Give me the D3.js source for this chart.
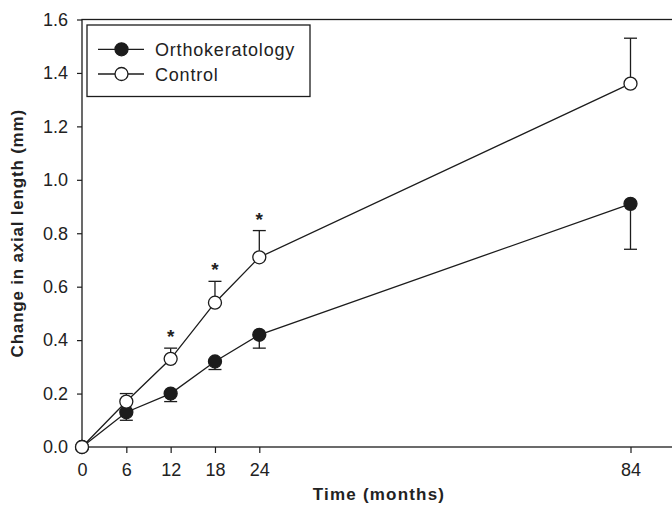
<!DOCTYPE html>
<html>
<head>
<meta charset="utf-8">
<script src="https://cdn.jsdelivr.net/npm/d3@7"></script>
<style>
  body { margin: 0; background: #fff; }
  text { font-family: "Liberation Sans", Arial, sans-serif; fill: #222; }
</style>
</head>
<body>
<div class="chart"></div>
<script>
// values
const months = [0, 6, 12, 18, 24, 84];
const orthoMean = [0, 0.13, 0.20, 0.32, 0.42, 0.91];
const orthoErr = [0, 0.03, 0.03, 0.03, 0.05, 0.17];
const controlMean = [0, 0.17, 0.33, 0.54, 0.71, 1.36];
const controlErr = [0, 0.03, 0.04, 0.08, 0.10, 0.17];
const significant = [false, false, true, true, true, false];
const xTicks = [0, 6, 12, 18, 24, 84];
const yTicks = [0, 0.2, 0.4, 0.6, 0.8, 1.0, 1.2, 1.4, 1.6];

const width = 672, height = 506;
const plotLeft = 82, plotTop = 19.5, plotBottom = 447;

const svg = d3.select(".chart").append("svg")
  .attr("width", width)
  .attr("height", height);

// the x axis is compressed after 24 months in the original
const x = d3.scaleLinear().domain([0, 24, 84]).range([plotLeft, 259.3, 630.5]);
const y = d3.scaleLinear().domain([0, 1.6]).range([plotBottom, plotTop]);

const ink = "#1c1c1c";

// frame (right side runs off the picture)
svg.append("rect")
  .attr("x", plotLeft).attr("y", plotTop)
  .attr("width", 700 - plotLeft).attr("height", plotBottom - plotTop)
  .attr("fill", "none").attr("stroke", ink).attr("stroke-width", 1.3);

// y axis
const yAxis = svg.append("g")
  .attr("transform", `translate(${plotLeft},0)`)
  .call(d3.axisLeft(y).tickValues(yTicks).tickFormat(d3.format(".1f")).tickSize(5).tickPadding(9));
yAxis.select(".domain").remove();
yAxis.selectAll("line").attr("stroke", ink).attr("stroke-width", 1.2);
yAxis.selectAll("text").attr("font-size", 18).attr("fill", "#222")
  .attr("font-family", "Liberation Sans, Arial, sans-serif");

// x axis
const xAxis = svg.append("g")
  .attr("transform", `translate(0,${plotBottom})`)
  .call(d3.axisBottom(x).tickValues(xTicks).tickFormat(d3.format("d")).tickSize(6).tickPadding(10));
xAxis.select(".domain").remove();
xAxis.selectAll("line").attr("stroke", ink).attr("stroke-width", 1.2);
xAxis.selectAll("text").attr("font-size", 18).attr("fill", "#222")
  .attr("font-family", "Liberation Sans, Arial, sans-serif");

// axis titles
svg.append("text")
  .attr("x", 379).attr("y", 500)
  .attr("text-anchor", "middle")
  .attr("font-size", 17).attr("font-weight", "bold")
  .attr("letter-spacing", 1.2)
  .text("Time (months)");

svg.append("text")
  .attr("transform", `translate(23,${(plotTop + plotBottom) / 2}) rotate(-90)`)
  .attr("text-anchor", "middle")
  .attr("font-size", 17).attr("font-weight", "bold")
  .attr("letter-spacing", 0.8)
  .text("Change in axial length (mm)");

const ortho = months.map((m, i) => ({ m, v: orthoMean[i], e: orthoErr[i] }));
const control = months.map((m, i) => ({ m, v: controlMean[i], e: controlErr[i], s: significant[i] }));

const line = d3.line().x(d => x(d.m)).y(d => y(d.v));

function drawSeries(data, dir, fill) {
  svg.append("path").datum(data)
    .attr("d", line)
    .attr("fill", "none").attr("stroke", ink).attr("stroke-width", 1.3);

  const bars = data.filter(d => d.e > 0);
  svg.selectAll(null).data(bars).join("line")
    .attr("x1", d => x(d.m)).attr("x2", d => x(d.m))
    .attr("y1", d => y(d.v)).attr("y2", d => y(d.v + dir * d.e))
    .attr("stroke", ink).attr("stroke-width", 1.3);
  svg.selectAll(null).data(bars).join("line")
    .attr("x1", d => x(d.m) - 6.5).attr("x2", d => x(d.m) + 6.5)
    .attr("y1", d => y(d.v + dir * d.e)).attr("y2", d => y(d.v + dir * d.e))
    .attr("stroke", ink).attr("stroke-width", 1.3);

  svg.selectAll(null).data(data).join("circle")
    .attr("cx", d => x(d.m)).attr("cy", d => y(d.v))
    .attr("r", 6.5)
    .attr("fill", fill).attr("stroke", ink).attr("stroke-width", 1.3);
}

drawSeries(ortho, -1, ink);
drawSeries(control, 1, "#fff");

// significance stars
svg.selectAll(null).data(control.filter(d => d.s)).join("text")
  .attr("x", d => x(d.m)).attr("y", d => y(d.v + d.e) - 5)
  .attr("text-anchor", "middle")
  .attr("font-size", 19).attr("font-weight", "bold")
  .text("*");

// legend
const lg = svg.append("g");
lg.append("rect")
  .attr("x", 87).attr("y", 25).attr("width", 223).attr("height", 71.5)
  .attr("fill", "#fff").attr("stroke", ink).attr("stroke-width", 1.3);
const entries = [
  { label: "Orthokeratology", fill: ink, y: 49.3 },
  { label: "Control", fill: "#fff", y: 74 }
];
entries.forEach(e => {
  lg.append("line")
    .attr("x1", 98).attr("x2", 144).attr("y1", e.y).attr("y2", e.y)
    .attr("stroke", ink).attr("stroke-width", 1.3);
  lg.append("circle")
    .attr("cx", 121.5).attr("cy", e.y).attr("r", 6.5)
    .attr("fill", e.fill).attr("stroke", ink).attr("stroke-width", 1.3);
  lg.append("text")
    .attr("x", 155).attr("y", e.y + 6.5)
    .attr("font-size", 18).attr("letter-spacing", 0.8)
    .text(e.label);
});
</script>
</body>
</html>
